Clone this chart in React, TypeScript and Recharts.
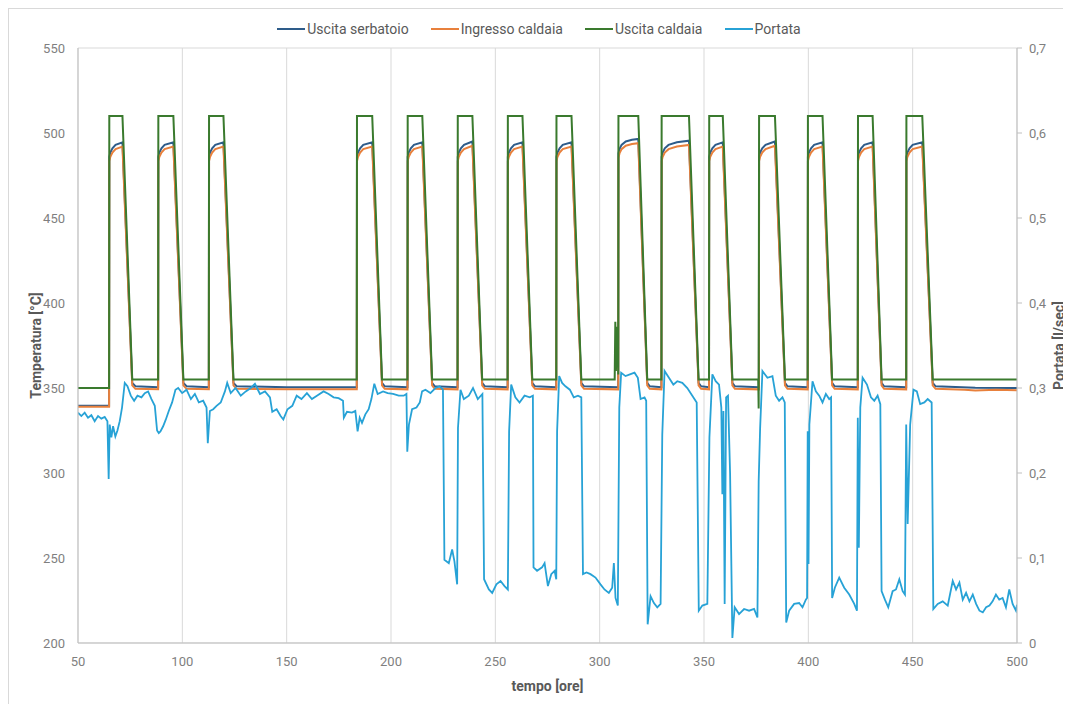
import React from 'react';
import { LineChart, Line, XAxis, YAxis, CartesianGrid, Legend } from 'recharts';

// Axis ticks
const xTicks = [50, 100, 150, 200, 250, 300, 350, 400, 450, 500];
const tempTicks = [200, 250, 300, 350, 400, 450, 500, 550];
const flowTicks = [0, 0.1, 0.2, 0.3, 0.4, 0.5, 0.6, 0.7];

// Series names, in legend order
const seriesNames = ['Uscita serbatoio', 'Ingresso caldaia', 'Uscita caldaia', 'Portata'];

// Uscita serbatoio [ore, °C]
const uscitaSerbatoio: [number, number][] = [
  [50, 339.5], [64.9, 339.5],
  [65.0, 486], [65.5, 488.5], [66.5, 491], [68.0, 493], [71.3, 494.5], [76.0, 353], [77.5, 351], [88.4, 350.5],
  [88.5, 486], [89.0, 488.5], [90.0, 491], [91.5, 493], [95.7, 494.5], [100.5, 353], [102.0, 351], [112.7, 350.5],
  [112.8, 486], [113.3, 488.5], [114.3, 491], [115.8, 493], [119.7, 494.5], [124.5, 353], [126.0, 351], [150, 350.5], [183.6, 350.5],
  [183.7, 486], [184.2, 488.5], [185.2, 491], [186.7, 493], [191.0, 494.5], [195.7, 353], [197.0, 351], [207.9, 350.5],
  [208.0, 486], [208.5, 488.5], [209.5, 491], [211.0, 493], [215.0, 494.5], [219.7, 353], [221.0, 351], [231.9, 350.5],
  [232.0, 486], [232.5, 488.5], [233.5, 491], [235.0, 493], [239.0, 495], [243.7, 353], [245.0, 351], [255.9, 350.5],
  [256.0, 486], [256.5, 488.5], [257.5, 491], [259.0, 493], [263.0, 494.5], [267.7, 353], [269.0, 351], [279.2, 350.5],
  [279.3, 486], [279.8, 488.5], [280.8, 491], [282.3, 493], [286.5, 494.5], [291.2, 353], [292.5, 351], [308.9, 350.5],
  [309.0, 488], [309.5, 490.5], [310.5, 493], [312.5, 495], [315.5, 496], [318.5, 496.5], [322.8, 353], [324.0, 351], [329.6, 350.5],
  [329.7, 486], [330.2, 488.5], [331.2, 491], [333.0, 493], [337.0, 494.5], [342.8, 495.5], [347.4, 353], [348.6, 351], [352.4, 350.5],
  [352.5, 486], [353.0, 488.5], [354.0, 491], [355.5, 493], [359.0, 494.5], [363.6, 353], [364.8, 351], [376.3, 350.5],
  [376.4, 486], [376.9, 488.5], [377.9, 491], [379.5, 493], [384.0, 495], [388.8, 353], [390.0, 351], [399.7, 350.5],
  [399.8, 486], [400.3, 488.5], [401.3, 491], [402.8, 493], [406.8, 494.5], [411.4, 353], [412.6, 351], [423.7, 350.5],
  [423.8, 486], [424.3, 488.5], [425.3, 491], [426.8, 493], [430.8, 494.5], [435.1, 353], [436.3, 351], [446.9, 350.5],
  [447.0, 486], [447.5, 488.5], [448.5, 491], [450.0, 493], [454.6, 494.5], [459.6, 353], [461.0, 351], [480, 350.2], [500, 350],
];

// Ingresso caldaia [ore, °C]
const ingressoCaldaia: [number, number][] = [
  [50, 339], [64.9, 339],
  [65.0, 483.5], [65.5, 486], [66.5, 488.5], [68.0, 490.5], [71.3, 492], [76.0, 351.5], [77.5, 349.5], [88.4, 349.3],
  [88.5, 483.5], [89.0, 486], [90.0, 488.5], [91.5, 490.5], [95.7, 492], [100.5, 351.5], [102.0, 349.5], [112.7, 349.3],
  [112.8, 483.5], [113.3, 486], [114.3, 488.5], [115.8, 490.5], [119.7, 492], [124.5, 351.5], [126.0, 349.5], [150, 349.3], [183.6, 349.2],
  [183.7, 483.5], [184.2, 486], [185.2, 488.5], [186.7, 490.5], [191.0, 492], [195.7, 351.5], [197.0, 349.5], [207.9, 349.2],
  [208.0, 483.5], [208.5, 486], [209.5, 488.5], [211.0, 490.5], [215.0, 492], [219.7, 351.5], [221.0, 349.5], [231.9, 349.2],
  [232.0, 483.5], [232.5, 486], [233.5, 488.5], [235.0, 490.5], [239.0, 492.5], [243.7, 351.5], [245.0, 349.5], [255.9, 349.2],
  [256.0, 483.5], [256.5, 486], [257.5, 488.5], [259.0, 490.5], [263.0, 492], [267.7, 351.5], [269.0, 349.5], [279.2, 349.2],
  [279.3, 483.5], [279.8, 486], [280.8, 488.5], [282.3, 490.5], [286.5, 492], [291.2, 351.5], [292.5, 349.5], [308.9, 349.2],
  [309.0, 485.5], [309.5, 488], [310.5, 490.5], [312.5, 492.5], [315.5, 493.5], [318.5, 494], [322.8, 351.5], [324.0, 349.5], [329.6, 349.2],
  [329.7, 483.5], [330.2, 486], [331.2, 488.5], [333.0, 490.5], [337.0, 492], [342.8, 493], [347.4, 351.5], [348.6, 349.5], [352.4, 349.2],
  [352.5, 483.5], [353.0, 486], [354.0, 488.5], [355.5, 490.5], [359.0, 492], [363.6, 351.5], [364.8, 349.5], [376.3, 349.2],
  [376.4, 483.5], [376.9, 486], [377.9, 488.5], [379.5, 490.5], [384.0, 492.5], [388.8, 351.5], [390.0, 349.5], [399.7, 349.2],
  [399.8, 483.5], [400.3, 486], [401.3, 488.5], [402.8, 490.5], [406.8, 492], [411.4, 351.5], [412.6, 349.5], [423.7, 349.2],
  [423.8, 483.5], [424.3, 486], [425.3, 488.5], [426.8, 490.5], [430.8, 492], [435.1, 351.5], [436.3, 349.5], [446.9, 349.2],
  [447.0, 483.5], [447.5, 486], [448.5, 488.5], [450.0, 490.5], [454.6, 492], [459.6, 351.5], [461.0, 349.5], [475, 349], [480, 348.5], [490, 349], [500, 348.7],
];

// Uscita caldaia [ore, °C]
const uscitaCaldaia: [number, number][] = [
  [50, 350], [64.9, 350],
  [65.0, 510], [71.3, 510], [76.0, 355], [88.4, 355],
  [88.5, 510], [95.7, 510], [100.5, 355], [112.7, 355],
  [112.8, 510], [119.7, 510], [124.5, 355], [183.6, 355],
  [183.7, 510], [191.0, 510], [195.7, 355], [207.9, 355],
  [208.0, 510], [215.0, 510], [219.7, 355], [231.9, 355],
  [232.0, 510], [239.0, 510], [243.7, 355], [255.9, 355],
  [256.0, 510], [263.0, 510], [267.7, 355], [279.2, 355],
  [279.3, 510], [286.5, 510], [291.2, 355], [307.2, 355],
  [307.5, 389], [307.8, 360], [308.1, 386], [308.4, 362], [308.7, 380], [308.9, 358],
  [309.0, 510], [318.5, 510], [322.8, 355], [329.6, 355],
  [329.7, 510], [342.8, 510], [347.4, 355], [352.4, 355],
  [352.5, 510], [359.0, 510], [363.6, 355], [376.0, 355], [376.2, 338],
  [376.4, 510], [384.0, 510], [388.8, 355], [399.7, 355],
  [399.8, 510], [406.8, 510], [411.4, 355], [423.7, 355],
  [423.8, 510], [430.8, 510], [435.1, 355], [446.9, 355],
  [447.0, 510], [454.6, 510], [459.6, 355], [500, 355],
];

// Portata [ore, l/sec]
const portata: [number, number][] = [
  [50, 0.271], [51.6, 0.267], [53.2, 0.271], [54.8, 0.265], [56.4, 0.268], [58.0, 0.261], [59.6, 0.267], [61.2, 0.264],
  [62.8, 0.266], [64.1, 0.261], [64.7, 0.193], [65.2, 0.257], [66.0, 0.242], [66.8, 0.255], [67.9, 0.243], [68.9, 0.25],
  [70.0, 0.261], [71.1, 0.277], [72.4, 0.306], [73.7, 0.302], [75.3, 0.291], [76.9, 0.285], [78.5, 0.291], [80.4, 0.289],
  [82.0, 0.294], [83.6, 0.296], [85.2, 0.287], [86.8, 0.279], [87.9, 0.25], [88.7, 0.247], [89.5, 0.249], [90.8, 0.255],
  [92.1, 0.263], [93.5, 0.273], [95.1, 0.283], [96.7, 0.298], [98.0, 0.3], [99.9, 0.294], [102.0, 0.298], [104.1, 0.287],
  [106.0, 0.293], [107.9, 0.283], [110.0, 0.285], [111.6, 0.277], [112.2, 0.235], [113.2, 0.273], [114.8, 0.275], [116.4, 0.279],
  [118.4, 0.283], [120.4, 0.296], [121.5, 0.306], [123.2, 0.294], [125.5, 0.3], [128.0, 0.291], [130.4, 0.296], [132.8, 0.3],
  [134.8, 0.305], [137.2, 0.293], [139.6, 0.296], [142.0, 0.289], [143.1, 0.272], [145.2, 0.275], [147.1, 0.267], [148.4, 0.263],
  [150.4, 0.275], [152.7, 0.279], [154.8, 0.291], [157.1, 0.287], [159.7, 0.294], [162.1, 0.287], [164.5, 0.291], [167.7, 0.296],
  [170.1, 0.293], [172.5, 0.289], [174.9, 0.288], [177.0, 0.285], [177.4, 0.265], [178.9, 0.272], [181.3, 0.271], [182.9, 0.273],
  [184.0, 0.249], [185.0, 0.265], [186.1, 0.259], [187.7, 0.269], [189.3, 0.275], [190.6, 0.287], [192.0, 0.305], [193.6, 0.293],
  [196.2, 0.296], [198.4, 0.294], [201.0, 0.293], [203.7, 0.291], [206.1, 0.291], [207.4, 0.293], [207.8, 0.225], [208.6, 0.257],
  [210.1, 0.275], [212.2, 0.277], [213.8, 0.283], [214.9, 0.296], [216.5, 0.298], [218.9, 0.294], [221.3, 0.3], [223.3, 0.302],
  [224.9, 0.298], [225.6, 0.098], [227.7, 0.094], [229.3, 0.11], [230.4, 0.096], [231.7, 0.069], [232.1, 0.253], [233.3, 0.298],
  [234.9, 0.287], [237.3, 0.291], [239.3, 0.3], [241.6, 0.287], [243.8, 0.293], [244.6, 0.075], [246.9, 0.063], [248.5, 0.059],
  [250.5, 0.069], [252.5, 0.073], [254.4, 0.067], [256.0, 0.063], [256.6, 0.249], [257.6, 0.304], [259.6, 0.289], [261.6, 0.283],
  [264.0, 0.291], [266.5, 0.289], [268.0, 0.291], [268.3, 0.089], [270.0, 0.085], [272.4, 0.089], [273.6, 0.094], [275.2, 0.067],
  [276.8, 0.081], [278.4, 0.085], [279.2, 0.075], [279.6, 0.249], [280.6, 0.314], [282.0, 0.306], [283.6, 0.302], [285.7, 0.298],
  [287.6, 0.289], [289.6, 0.291], [291.2, 0.289], [292.0, 0.081], [293.7, 0.083], [295.6, 0.081], [298.0, 0.077], [300.4, 0.069],
  [302.3, 0.063], [304.4, 0.059], [306.0, 0.065], [306.8, 0.094], [307.6, 0.053], [308.7, 0.044], [309.4, 0.277], [310.3, 0.318],
  [312.4, 0.314], [314.5, 0.316], [316.7, 0.318], [318.3, 0.312], [319.6, 0.287], [321.5, 0.289], [322.3, 0.285], [323.0, 0.022],
  [324.4, 0.055], [326.0, 0.047], [327.6, 0.042], [329.2, 0.046], [330.0, 0.245], [331.1, 0.32], [333.2, 0.312], [335.3, 0.304],
  [337.2, 0.308], [339.6, 0.306], [342.0, 0.3], [344.4, 0.291], [346.5, 0.283], [347.5, 0.038], [349.2, 0.044], [351.6, 0.046],
  [352.6, 0.242], [354.0, 0.316], [355.6, 0.308], [357.2, 0.304], [358.3, 0.277], [358.8, 0.175], [359.3, 0.273], [359.9, 0.046],
  [360.6, 0.289], [361.5, 0.291], [362.5, 0.2], [363.6, 0.006], [364.7, 0.042], [366.8, 0.034], [369.2, 0.04], [371.6, 0.038],
  [374.0, 0.04], [375.6, 0.03], [376.2, 0.19], [376.9, 0.253], [378.0, 0.32], [380.4, 0.312], [382.8, 0.314], [384.4, 0.291],
  [386.0, 0.285], [387.6, 0.289], [388.7, 0.283], [389.4, 0.024], [390.8, 0.038], [393.2, 0.046], [395.6, 0.047], [397.2, 0.042],
  [398.8, 0.051], [399.4, 0.053], [399.7, 0.249], [400.1, 0.093], [400.5, 0.257], [402.0, 0.308], [403.6, 0.296], [405.2, 0.291],
  [406.8, 0.283], [408.4, 0.293], [410.0, 0.287], [410.9, 0.289], [411.4, 0.053], [412.7, 0.065], [414.8, 0.077], [417.2, 0.065],
  [419.6, 0.057], [422.0, 0.046], [423.3, 0.038], [423.7, 0.265], [424.2, 0.112], [424.9, 0.277], [426.0, 0.312], [428.1, 0.304],
  [430.0, 0.289], [431.6, 0.285], [433.2, 0.291], [434.5, 0.281], [435.1, 0.061], [436.7, 0.051], [438.3, 0.042], [440.4, 0.061],
  [442.0, 0.063], [443.6, 0.075], [445.2, 0.061], [446.3, 0.057], [446.9, 0.257], [447.6, 0.14], [448.8, 0.257], [450.4, 0.298],
  [452.0, 0.296], [453.6, 0.281], [455.6, 0.283], [457.2, 0.287], [459.1, 0.283], [459.9, 0.04], [462.0, 0.046], [464.4, 0.049],
  [466.8, 0.044], [469.2, 0.073], [470.8, 0.063], [472.4, 0.071], [474.0, 0.051], [475.6, 0.059], [477.2, 0.049], [478.8, 0.057],
  [480.4, 0.046], [482.0, 0.038], [483.6, 0.036], [485.2, 0.042], [486.8, 0.044], [488.3, 0.049], [489.9, 0.057], [491.5, 0.051],
  [493.1, 0.053], [494.7, 0.042], [496.3, 0.063], [497.9, 0.046], [499.5, 0.038], [500, 0.045],
];

const toRows = (pts: [number, number][]) => pts.map(([t, v]) => ({ t, v }));

const COLORS = {
  serbatoio: '#2E5C8A',
  ingresso: '#E8803C',
  caldaia: '#3A7A2E',
  portata: '#27A2D6',
};

const FONT = 'Roboto, "Noto Sans", sans-serif';
const TICK = { fill: '#7F7F7F', fontSize: 13, fontFamily: FONT };

const fmtFlow = (v: number) => (v === 0 ? '0' : v.toFixed(1).replace('.', ','));

const LegendContent = (props: any) => {
  const items = [...(props.payload || [])].sort(
    (a: any, b: any) => seriesNames.indexOf(a.value) - seriesNames.indexOf(b.value)
  );
  return (
    <div
      style={{
        display: 'flex',
        justifyContent: 'center',
        alignItems: 'center',
        height: 30,
        paddingBottom: 8,
        boxSizing: 'border-box',
        fontFamily: FONT,
        fontSize: 14,
        color: '#595959',
        paddingRight: 6,
      }}
    >
      {items.map((it: any) => (
        <div key={it.value} style={{ display: 'flex', alignItems: 'center', margin: '0 11px' }}>
          <span style={{ display: 'inline-block', width: 28, height: 2, background: it.color, marginRight: 2 }} />
          <span>{it.value}</span>
        </div>
      ))}
    </div>
  );
};

const VLabel = ({ viewBox, value, dx }: any) => {
  const cx = viewBox.x + dx;
  const cy = viewBox.y + viewBox.height / 2;
  return (
    <text
      x={cx}
      y={cy}
      transform={`rotate(-90, ${cx}, ${cy})`}
      textAnchor="middle"
      dominantBaseline="central"
      fill="#595959"
      fontFamily={FONT}
      fontSize={14}
      fontWeight={700}
    >
      {value}
    </text>
  );
};

export default function App() {
  return (
    <div
      style={{
        width: 1080,
        height: 700,
        border: '1px solid #D9D9D9',
        boxSizing: 'border-box',
        background: '#fff',
      }}
    >
      <LineChart width={1066} height={696} margin={{ top: 9, right: 0, bottom: 6, left: 0 }}>
        <CartesianGrid stroke="#D9D9D9" strokeWidth={1} />
        <XAxis
          type="number"
          dataKey="t"
          domain={[50, 500]}
          ticks={xTicks}
          allowDataOverflow
          height={56}
          axisLine={{ stroke: '#BFBFBF' }}
          tickLine={false}
          tickSize={6}
          tickMargin={8}
          tick={TICK}
          label={{
            value: 'tempo [ore]',
            position: 'insideBottom',
            offset: 8,
            fill: '#595959',
            fontSize: 14,
            fontWeight: 700,
            fontFamily: FONT,
          }}
        />
        <YAxis
          yAxisId="temp"
          orientation="left"
          domain={[200, 550]}
          ticks={tempTicks}
          allowDataOverflow
          width={69}
          axisLine={{ stroke: '#BFBFBF' }}
          tickLine={false}
          tickSize={6}
          tickMargin={7}
          tick={TICK}
          label={<VLabel value="Temperatura [°C]" dx={27} />}
        />
        <YAxis
          yAxisId="flow"
          orientation="right"
          domain={[0, 0.7]}
          ticks={flowTicks}
          allowDataOverflow
          width={58}
          axisLine={{ stroke: '#BFBFBF' }}
          tickLine={{ stroke: '#BFBFBF' }}
          tickSize={5}
          tickMargin={7}
          tick={TICK}
          tickFormatter={fmtFlow}
          label={<VLabel value="Portata [l/sec]" dx={42} />}
        />
        <Legend verticalAlign="top" align="center" content={LegendContent} />
        <Line
          yAxisId="temp"
          data={toRows(uscitaSerbatoio)}
          dataKey="v"
          name={seriesNames[0]}
          stroke={COLORS.serbatoio}
          strokeWidth={2}
          dot={false}
          activeDot={false}
          isAnimationActive={false}
        />
        <Line
          yAxisId="temp"
          data={toRows(ingressoCaldaia)}
          dataKey="v"
          name={seriesNames[1]}
          stroke={COLORS.ingresso}
          strokeWidth={2}
          dot={false}
          activeDot={false}
          isAnimationActive={false}
        />
        <Line
          yAxisId="temp"
          data={toRows(uscitaCaldaia)}
          dataKey="v"
          name={seriesNames[2]}
          stroke={COLORS.caldaia}
          strokeWidth={2}
          dot={false}
          activeDot={false}
          isAnimationActive={false}
        />
        <Line
          yAxisId="flow"
          data={toRows(portata)}
          dataKey="v"
          name={seriesNames[3]}
          stroke={COLORS.portata}
          strokeWidth={1.8}
          dot={false}
          activeDot={false}
          isAnimationActive={false}
        />
      </LineChart>
    </div>
  );
}
